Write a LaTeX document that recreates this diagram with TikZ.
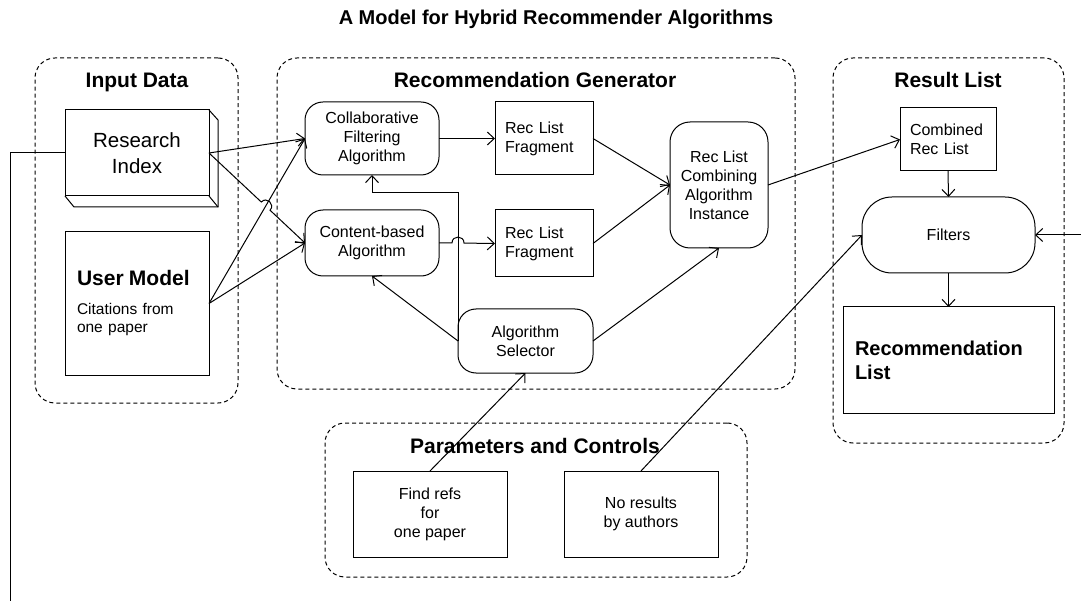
\documentclass[tikz,border=0pt]{standalone}
\usepackage{fontspec}
\setmainfont{Liberation Sans}
\usetikzlibrary{arrows.meta,calc,intersections}

\newcommand\boxfont{\fontsize{16}{19}\selectfont}
\newcommand\grpfont{\fontsize{21}{25}\selectfont\bfseries}

\begin{document}
\begin{tikzpicture}[x=1pt,y=-1pt,line width=1pt,
  every node/.style={inner sep=0pt,outer sep=0pt},
  sz/.style 2 args={minimum width=#1pt,minimum height=#2pt},
  grp/.style={draw,dash pattern=on 4pt off 3pt,rounded corners=20pt},
  grptitle/.style={font=\grpfont,anchor=base},
  plain/.style={draw,rectangle,font=\boxfont,align=center},
  rnd/.style={draw,rectangle,rounded corners=#1,font=\boxfont,align=center},
  rnd/.default=18pt,
  arr/.style={-{Straight Barb[length=7pt,width=13pt]}}]

\useasboundingbox (0,0) rectangle (1081,601);

% heading
\node[font=\fontsize{20}{24}\selectfont\bfseries,anchor=base] (head) at (556,25)
  {A Model for Hybrid Recommender Algorithms};

% dashed groups with their headings
\node[grp,sz={203}{345}] (ingrp) at (136.5,230.5) {};
\node[grp,sz={518}{331}] (gengrp) at (536,223.5) {};
\node[grp,sz={231}{385}] (resgrp) at (948.5,250.5) {};
\node[grp,sz={422}{154}] (pargrp) at (536,500) {};
\node[grptitle] (tin) at (137,88) {Input Data};
\node[grptitle] (tgen) at (535,88) {Recommendation Generator};
\node[grptitle] (tres) at (948,88) {Result List};
\node[grptitle] (tpar) at (535,453) {Parameters and Controls};

% input data
\node[plain,sz={144}{86},font=\fontsize{20.5}{26}\selectfont] (ri) at (137,153) {Research\\Index};
\draw (ri.north east) -- ++(9,10) -- ($(ri.south east)+(9,11)$)
      -- ($(ri.south west)+(9,11)$) -- (ri.south west);
\draw (ri.south east) -- ++(9,11);
\node[plain,sz={144}{143},align=left,text width=120pt] (um) at (137,303.5)
  {{\fontsize{21}{25}\selectfont\bfseries User Model\par}\vspace{11pt}%
   {\fontsize{15.5}{18}\selectfont Citations from\\one paper\par}};

% recommendation generator
\node[rnd,sz={134}{73}] (cf) at (372,138.5) {Collaborative\\Filtering\\Algorithm};
\node[rnd,sz={134}{66}] (cb) at (372,243) {Content-based\\Algorithm};
\node[plain,sz={98}{73},align=left,text width=78pt] (rl1) at (544,138.5) {Rec List\\Fragment};
\node[plain,sz={98}{67},align=left,text width=78pt] (rl2) at (544,243.5) {Rec List\\Fragment};
\node[rnd=20pt,sz={98}{126}] (comb) at (719,185) {Rec List\\Combining\\Algorithm\\Instance};
\node[rnd,sz={135}{64}] (sel) at (525.5,341) {Algorithm\\Selector};

% result list
\node[plain,sz={96}{63},align=left,text width=76pt] (crl) at (948,139.5) {Combined\\Rec List};
\node[rnd=30pt,sz={173}{76}] (filt) at (948.5,235) {Filters};
\node[plain,sz={211}{106},align=left,text width=187pt,font=\fontsize{20}{24}\selectfont\bfseries]
  (rec) at (948.5,360) {Recommendation\\List};

% parameters and controls
\node[plain,sz={154}{86}] (fr) at (430,514) {Find refs\\for\\one paper};
\node[plain,sz={154}{86}] (nr) at (641,514) {No results\\by authors};

% free ends
\coordinate (lft) at (10,601);
\coordinate (rin) at ([xshift=46pt]filt.east);

% connectors from the input data
\draw[arr] (ri.east) -- (cf.west);
\draw[arr] (um.east) -- (cf.west);
\draw[arr] (um.east) -- (cb.west);
\path[name path=umcf] (um.east) -- (cf.west);
\path[name path=ricb] (ri.east) -- (cb.west);
\path[name intersections={of=umcf and ricb,by=hx}];
\coordinate (ha) at ($(hx)!6pt!(ri.east)$);
\coordinate (hb) at ($(hx)!6pt!(cb.west)$);
\draw[arr] (ri.east) -- (ha) .. controls ($(ha)!8pt!90:(hx)$) and ($(hb)!8pt!-90:(hx)$) .. (hb) -- (cb.west);
\draw (ri.west) -| (lft);

% connectors inside the generator
\draw[arr] (cf.east) -- (rl1.west);
\coordinate (hy) at (sel.west |- cb.east);
\coordinate (hc) at ($(hy)!6pt!(cb.east)$);
\coordinate (hd) at ($(hy)!6pt!(rl2.west)$);
\draw[arr] (cb.east) -- (hc) .. controls ($(hc)!8pt!90:(hy)$) and ($(hd)!8pt!-90:(hy)$) .. (hd) -- (rl2.west);
\draw[arr] (rl1.east) -- (comb.west);
\draw[arr] (rl2.east) -- (comb.west);
\draw[arr] (sel.east) -- (comb.south);
\draw[arr] (sel.west) -- (cb.south);
\coordinate (elb) at ($(cf.south)!0.5!(cb.north)$);
\draw[arr] (sel.west) |- (elb) -- (cf.south);

% connectors to the result list
\draw[arr] (comb.east) -- (crl.west);
\draw[arr] (crl.south) -- (filt.north);
\draw[arr] (filt.south) -- (rec.north);
\draw[arr] (rin) -- (filt.east);

% connectors from the parameters
\draw[arr] (fr.north) -- (sel.south);
\draw[arr] (nr.north) -- (filt.west);
\end{tikzpicture}
\end{document}
